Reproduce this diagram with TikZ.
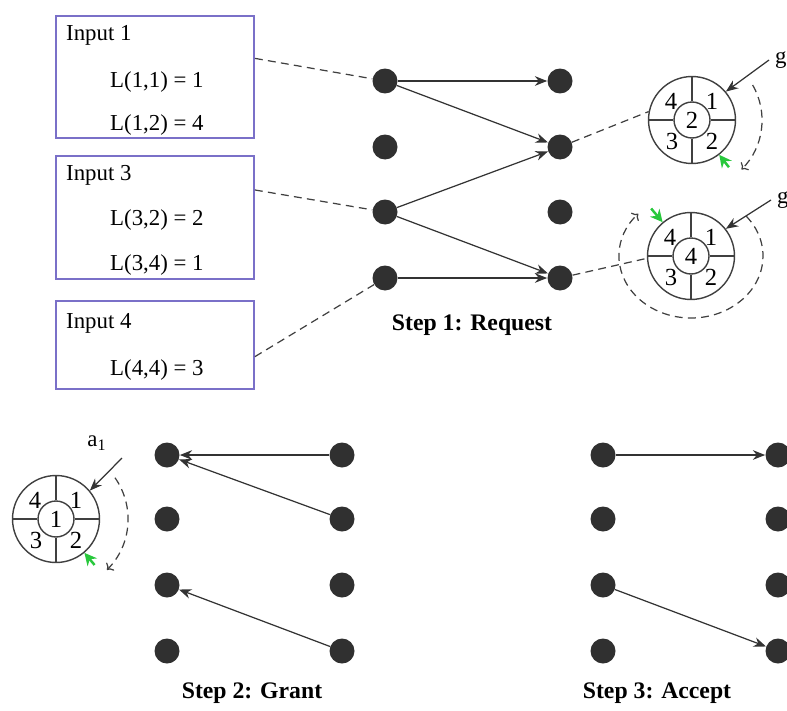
\documentclass[tikz,border=0pt]{standalone}
\usepackage{fontspec}
\setmainfont{Liberation Serif}
\definecolor{BoxViolet}{RGB}{122,112,200}
\definecolor{DotGray}{RGB}{48,48,48}
\definecolor{PtrGreen}{RGB}{40,200,60}
\usetikzlibrary{
    arrows.meta,
    positioning,
    calc,
}

\begin{document}
\begin{tikzpicture}[
        x=0.02cm, y=0.02cm,
        font=\fontsize{13}{15}\selectfont,
        inbox/.style={rectangle, draw=BoxViolet, line width=1.1pt, minimum width=3.96cm, minimum height=#1, inner sep=0pt, anchor=north west},
        dot/.style={circle, fill=DotGray, inner sep=0pt, minimum size=0.5cm},
        ring/.style={circle, draw=black!75, line width=0.8pt, inner sep=0pt, minimum size=1.74cm},
        hub/.style={circle, draw=black!75, line width=0.8pt, inner sep=0pt, minimum size=0.72cm},
        req/.style={draw=black!80, line width=0.7pt, -{Stealth[length=7pt,width=5.5pt]}},
        link/.style={draw=black!75, line width=0.7pt, dash pattern=on 4.5pt off 3pt},
        turn/.style={link, -{To[length=3pt]}},
        newptr/.style={draw=PtrGreen, line width=1.4pt, -{Stealth[length=7pt,width=7pt]}},
        steplabel/.style={font=\fontsize{13.5}{16}\selectfont\bfseries},
    ]
    \useasboundingbox (0,0) rectangle (787,-710);

    \node[inbox=2.44cm] (in1) at (55,-15) {};
    \node[inbox=2.46cm] (in3) at (55,-155) {};
    \node[inbox=1.76cm] (in4) at (55,-300) {};
    \node[anchor=west] (in1-title) at (60,-35) {Input 1};
    \node[anchor=west] (in1-l1) at (104,-82) {L(1,1) = 1};
    \node[anchor=west] (in1-l2) at (104,-125) {L(1,2) = 4};
    \node[anchor=west] (in3-title) at (60,-175) {Input 3};
    \node[anchor=west] (in3-l1) at (104,-220) {L(3,2) = 2};
    \node[anchor=west] (in3-l2) at (104,-265) {L(3,4) = 1};
    \node[anchor=west] (in4-title) at (60,-323) {Input 4};
    \node[anchor=west] (in4-l1) at (104,-370) {L(4,4) = 3};

    \foreach \r/\y in {1/-81,2/-147,3/-212,4/-278} {
        \node[dot] (ql\r) at (385,\y) {};
        \node[dot] (qr\r) at (560,\y) {};
    }
    \foreach \r/\y in {1/-455,2/-519,3/-585,4/-651} {
        \node[dot] (gl\r) at (167,\y) {};
        \node[dot] (gr\r) at (342,\y) {};
        \node[dot] (al\r) at (603,\y) {};
        \node[dot] (ar\r) at (778,\y) {};
    }

    \foreach \nm/\x/\y/\c in {g2/692/-120/2, g4/691/-256/4, a1/56/-519/1} {
        \node[ring] (\nm) at (\x,\y) {};
        \node[hub, font=\fontsize{14}{16}\selectfont] (\nm-hub) at (\x,\y) {\c};
        \draw[black!75, line width=0.8pt] (\nm-hub.north) -- (\nm.north) (\nm-hub.south) -- (\nm.south)
            (\nm-hub.east) -- (\nm.east) (\nm-hub.west) -- (\nm.west);
        \node[font=\fontsize{14}{16}\selectfont] (\nm-q4) at (\x-21,\y+19) {4};
        \node[font=\fontsize{14}{16}\selectfont] (\nm-q1) at (\x+20,\y+19) {1};
        \node[font=\fontsize{14}{16}\selectfont] (\nm-q3) at (\x-20,\y-21) {3};
        \node[font=\fontsize{14}{16}\selectfont] (\nm-q2) at (\x+20,\y-21) {2};
    }

    \coordinate (in1-out) at ($(in1.north east)!0.35!(in1.south east)$);
    \coordinate (in3-out) at ($(in3.north east)!0.28!(in3.south east)$);
    \coordinate (in4-out) at ($(in4.north east)!0.63!(in4.south east)$);
    \draw[link] (in1-out) -- (ql1);
    \draw[link] (in3-out) -- (ql3);
    \draw[link] (in4-out) -- (ql4);
    \draw[link] (qr2) -- (g2.169);
    \draw[link] (qr4) -- (g4.183);

    \draw[req] (ql1) -- (qr1);
    \draw[req] (ql1) -- (qr2);
    \draw[req] (ql3) -- (qr2);
    \draw[req] (ql3) -- (qr4);
    \draw[req] (ql4) -- (qr4);

    \draw[req] (gr1) -- (gl1);
    \draw[req] (gr2) -- (gl1);
    \draw[req] (gr4) -- (gl3);

    \draw[req] (al1) -- (ar1);
    \draw[req] (al3) -- (ar4);

    \node[anchor=west] (g2-lbl) at (769,-60) {g};
    \node[anchor=west] (g4-lbl) at (771,-200) {g};
    \node (a1-lbl) at (97,-443) {a\textsubscript{1}};
    \coordinate (a1-tail) at (122,-458);
    \draw[req] (g2-lbl.west) -- (g2.40);
    \draw[req] (g4-lbl.west) -- (g4.38);
    \draw[req] (a1-tail) -- (a1.40);

    \draw[turn] ($(g2)+(30:70)$) arc[start angle=30, end angle=-45, radius=70];
    \draw[turn] ($(g4)+(40:72 and 62)$) arc[start angle=40, end angle=-223, x radius=72, y radius=62];
    \draw[turn] ($(a1)+(35:72)$) arc[start angle=35, end angle=-45, radius=72];

    \draw[newptr] ($(g2)+(-52:60)$) -- (g2.-52);
    \draw[newptr] ($(g4)+(130:62)$) -- (g4.130);
    \draw[newptr] ($(a1)+(-50:60)$) -- (a1.-50);

    \node[steplabel] (step1) at (472,-325) {Step 1: Request};
    \node[steplabel] (step2) at (252,-693) {Step 2: Grant};
    \node[steplabel] (step3) at (657,-693) {Step 3: Accept};
\end{tikzpicture}
\end{document}
